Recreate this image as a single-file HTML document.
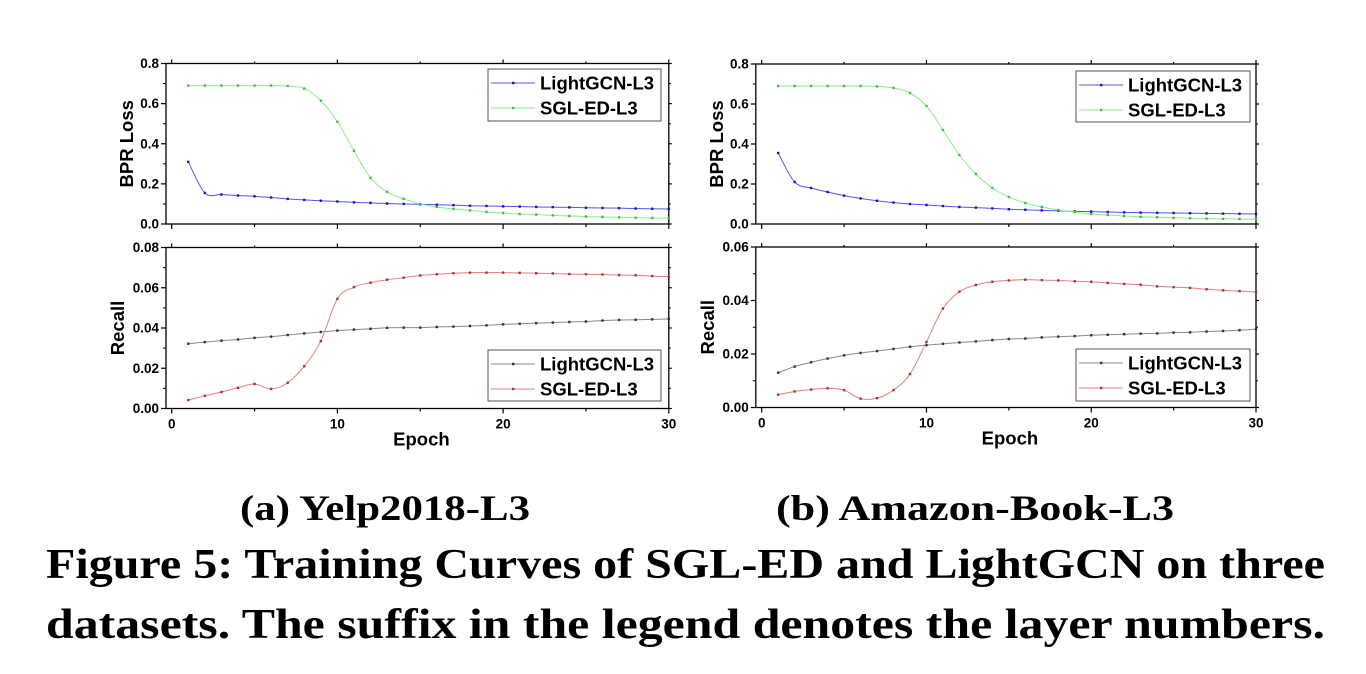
<!DOCTYPE html>
<html><head><meta charset="utf-8"><style>
html,body{margin:0;padding:0;background:#fff;width:1366px;height:674px;overflow:hidden}
svg{display:block}
.t{font-family:"Liberation Sans",Arial,sans-serif;font-weight:bold;fill:#000}
.c{font-family:"Liberation Serif",serif;font-weight:bold;fill:#000}
</style></head><body>
<svg id="fig" width="1366" height="674" viewBox="0 0 1366 674">
<text class="c" x="385" y="520" font-size="36" text-anchor="middle" textLength="290" lengthAdjust="spacingAndGlyphs">(a) Yelp2018-L3</text>
<text class="c" x="975" y="520" font-size="36" text-anchor="middle" textLength="398" lengthAdjust="spacingAndGlyphs">(b) Amazon-Book-L3</text>
<text class="c" x="46" y="578" font-size="42" textLength="1279" lengthAdjust="spacingAndGlyphs">Figure 5: Training Curves of SGL-ED and LightGCN on three</text>
<text class="c" x="46" y="638" font-size="42" textLength="1279" lengthAdjust="spacingAndGlyphs">datasets. The suffix in the legend denotes the layer numbers.</text>
</svg>
<script>
const epochs = Array.from({length:30},(_,i)=>i+1);
const yelpLossLight = [0.31,0.155,0.147,0.142,0.138,0.132,0.125,0.12,0.116,0.112,0.108,0.105,0.102,0.1,0.098,0.096,0.094,0.091,0.09,0.088,0.087,0.085,0.084,0.083,0.081,0.08,0.079,0.077,0.076,0.075];
const yelpLossSgl = [0.69,0.69,0.69,0.69,0.69,0.69,0.688,0.675,0.615,0.51,0.365,0.23,0.16,0.125,0.1,0.085,0.075,0.068,0.06,0.055,0.05,0.047,0.043,0.04,0.037,0.035,0.033,0.031,0.03,0.03];
const yelpRecLight = [0.0322,0.033,0.0337,0.0343,0.0351,0.0357,0.0365,0.0373,0.038,0.0387,0.0392,0.0396,0.0401,0.0402,0.0402,0.0405,0.0407,0.041,0.0413,0.0418,0.0421,0.0424,0.0427,0.043,0.0432,0.0437,0.044,0.0441,0.0443,0.0445];
const yelpRecSgl = [0.0042,0.0063,0.0082,0.0103,0.0122,0.0097,0.0128,0.021,0.0335,0.0545,0.0603,0.0625,0.064,0.065,0.0661,0.0667,0.0672,0.0675,0.0675,0.0675,0.0674,0.0672,0.0671,0.0668,0.0667,0.0666,0.0663,0.0662,0.0658,0.0655];
const amzLossLight = [0.355,0.21,0.18,0.16,0.142,0.128,0.116,0.107,0.1,0.095,0.09,0.085,0.082,0.078,0.074,0.071,0.068,0.066,0.063,0.062,0.06,0.058,0.057,0.056,0.055,0.054,0.053,0.052,0.051,0.05];
const amzLossSgl = [0.69,0.69,0.69,0.69,0.69,0.69,0.688,0.68,0.655,0.59,0.47,0.345,0.25,0.18,0.135,0.105,0.085,0.07,0.06,0.05,0.045,0.04,0.036,0.034,0.031,0.029,0.027,0.026,0.025,0.024];
const amzRecLight = [0.013,0.0153,0.0169,0.0183,0.0195,0.0204,0.0211,0.0219,0.0227,0.0233,0.0238,0.0243,0.0247,0.0252,0.0256,0.0258,0.0262,0.0265,0.0267,0.027,0.0272,0.0274,0.0276,0.0277,0.028,0.0281,0.0284,0.0286,0.0289,0.0293];
const amzRecSgl = [0.0048,0.006,0.0067,0.0072,0.0065,0.0033,0.0035,0.0065,0.0125,0.0245,0.037,0.0433,0.0458,0.047,0.0475,0.0478,0.0476,0.0475,0.0472,0.047,0.0466,0.0462,0.0459,0.0453,0.045,0.0447,0.0442,0.0438,0.0435,0.0432];
const xTicks = [0,10,20,30];
const lossTicks = [0,0.2,0.4,0.6,0.8];
const yelpRecTicks = [0,0.02,0.04,0.06,0.08];
const amzRecTicks = [0,0.02,0.04,0.06];
const seriesNames = ["LightGCN-L3","SGL-ED-L3"];

const svg = document.getElementById('fig');
const NS = 'http://www.w3.org/2000/svg';
function mk(tag, attrs, parent){const e=document.createElementNS(NS,tag);for(const k in attrs)e.setAttribute(k,attrs[k]);(parent||svg).appendChild(e);return e;}

function smooth(pts){
  let d='M'+pts[0][0]+','+pts[0][1];
  for(let i=0;i<pts.length-1;i++){
    const p0=pts[Math.max(0,i-1)],p1=pts[i],p2=pts[i+1],p3=pts[Math.min(pts.length-1,i+2)];
    const c1=[p1[0]+(p2[0]-p0[0])/6,p1[1]+(p2[1]-p0[1])/6];
    const c2=[p2[0]-(p3[0]-p1[0])/6,p2[1]-(p3[1]-p1[1])/6];
    d+=' C'+c1[0]+','+c1[1]+' '+c2[0]+','+c2[1]+' '+p2[0]+','+p2[1];
  }
  return d;
}

function panel(o){
  const g=mk('g',{});
  
  
  const xs=v=>o.x0+(v/30)*(o.x30-o.x0);
  const ys=v=>o.yb-(v/o.ymax)*(o.yb-o.yt);
  mk('rect',{x:o.fl,y:o.yt,width:o.x30-o.fl,height:o.yb-o.yt,fill:'none',stroke:'#000','stroke-width':1.3},g);
  const step=o.yTicks[1]-o.yTicks[0];
  o.yTicks.forEach((v,i)=>{
    const y=ys(v);
    mk('line',{x1:o.fl-5,y1:y,x2:o.fl,y2:y,stroke:'#000','stroke-width':1.2},g);
    mk('line',{x1:o.x30,y1:y,x2:o.x30+3,y2:y,stroke:'#000','stroke-width':1.2},g);
    const t=mk('text',{x:o.fl-7,y:y+4.5,'text-anchor':'end','font-size':13.5,class:'t'},g);
    t.textContent=v.toFixed(o.dec);
    
    
    if(i<o.yTicks.length-1){const ym=ys(v+step/2);
      mk('line',{x1:o.fl-3,y1:ym,x2:o.fl,y2:ym,stroke:'#000','stroke-width':1},g);
      mk('line',{x1:o.x30,y1:ym,x2:o.x30+2,y2:ym,stroke:'#000','stroke-width':1},g);}
  });
  [0,5,10,15,20,25,30].forEach(v=>{
    const x=xs(v),maj=v%10===0;
    mk('line',{x1:x,y1:o.yb,x2:x,y2:o.yb+(maj?5:3),stroke:'#000','stroke-width':1.2},g);
    mk('line',{x1:x,y1:o.yt,x2:x,y2:o.yt-(maj?4:2),stroke:'#000','stroke-width':1.2},g);
  });
  if(o.showX){xTicks.forEach(v=>{const t=mk('text',{x:xs(v),y:o.yb+20,'text-anchor':'middle','font-size':13.5,class:'t'},g);t.textContent=v;
    
    });
    const e=mk('text',{x:(o.fl+o.x30)/2+4,y:o.yb+37,'text-anchor':'middle','font-size':18.5,class:'t'},g);e.textContent='Epoch';
    
    }
  const cy=(o.yt+o.yb)/2;
  const yt=mk('text',{x:0,y:0,'text-anchor':'middle','font-size':18.5,class:'t',transform:`translate(${o.fl-o.tOff},${cy}) rotate(-90)`},g);
  yt.textContent=o.ytitle;
  
  
  o.series.forEach((s,si)=>{
    const pts=epochs.map((e,i)=>[xs(e),ys(s.data[i])]);
    const p=mk('path',{d:smooth(pts),fill:'none',stroke:s.color,'stroke-width':1},g);
    
    
    pts.forEach(q=>{const m=mk('rect',{x:q[0]-1.2,y:q[1]-1.2,width:2.4,height:2.4,fill:s.mark},g);
      
      });
  });
  const L=o.leg;
  const lg=mk('g',{},g);
  
  
  mk('rect',{x:L.x,y:L.y,width:L.w,height:L.h,fill:'#fff',stroke:'#555','stroke-width':1},lg);
  o.series.forEach((s,si)=>{
    const ly=L.y+14+si*25;
    mk('line',{x1:L.x+3,y1:ly,x2:L.x+47,y2:ly,stroke:s.color,'stroke-width':1},lg);
    mk('rect',{x:L.x+24,y:ly-1.2,width:2.4,height:2.4,fill:s.mark},lg);
    const t=mk('text',{x:L.x+52,y:ly+6.5,'font-size':18.5,class:'t'},lg);
    t.textContent=seriesNames[si];
    
    
  });
}
const blue={color:'#5555ee',mark:'#1a1aa0'},green={color:'#88ee88',mark:'#44bb44'},
      grey={color:'#888',mark:'#333'},red={color:'#e08080',mark:'#b03030'};
panel({name:'yelp-loss-chart',fl:166,x0:171.7,x30:668.8,yt:63.5,yb:224,ymax:0.8,yTicks:lossTicks,dec:1,ytitle:'BPR Loss',tOff:33,
  series:[{key:'lightgcn',data:yelpLossLight,...blue},{key:'sgl-ed',data:yelpLossSgl,...green}],leg:{x:488,y:69,w:173,h:52}});
panel({name:'yelp-recall-chart',fl:166,x0:171.7,x30:668.8,yt:247.5,yb:408.5,ymax:0.08,yTicks:yelpRecTicks,dec:2,ytitle:'Recall',showX:true,tOff:42,
  series:[{key:'lightgcn',data:yelpRecLight,...grey},{key:'sgl-ed',data:yelpRecSgl,...red}],leg:{x:488,y:350,w:173,h:51}});
panel({name:'amazon-loss-chart',fl:755.8,x0:761.7,x30:1256,yt:64,yb:224,ymax:0.8,yTicks:lossTicks,dec:1,ytitle:'BPR Loss',tOff:33,
  series:[{key:'lightgcn',data:amzLossLight,...blue},{key:'sgl-ed',data:amzLossSgl,...green}],leg:{x:1076,y:71,w:174,h:51}});
panel({name:'amazon-recall-chart',fl:755.8,x0:761.7,x30:1256,yt:247,yb:407.5,ymax:0.06,yTicks:amzRecTicks,dec:2,ytitle:'Recall',showX:true,tOff:42,
  series:[{key:'lightgcn',data:amzRecLight,...grey},{key:'sgl-ed',data:amzRecSgl,...red}],leg:{x:1076,y:349,w:174,h:52}});
</script>
</body></html>
